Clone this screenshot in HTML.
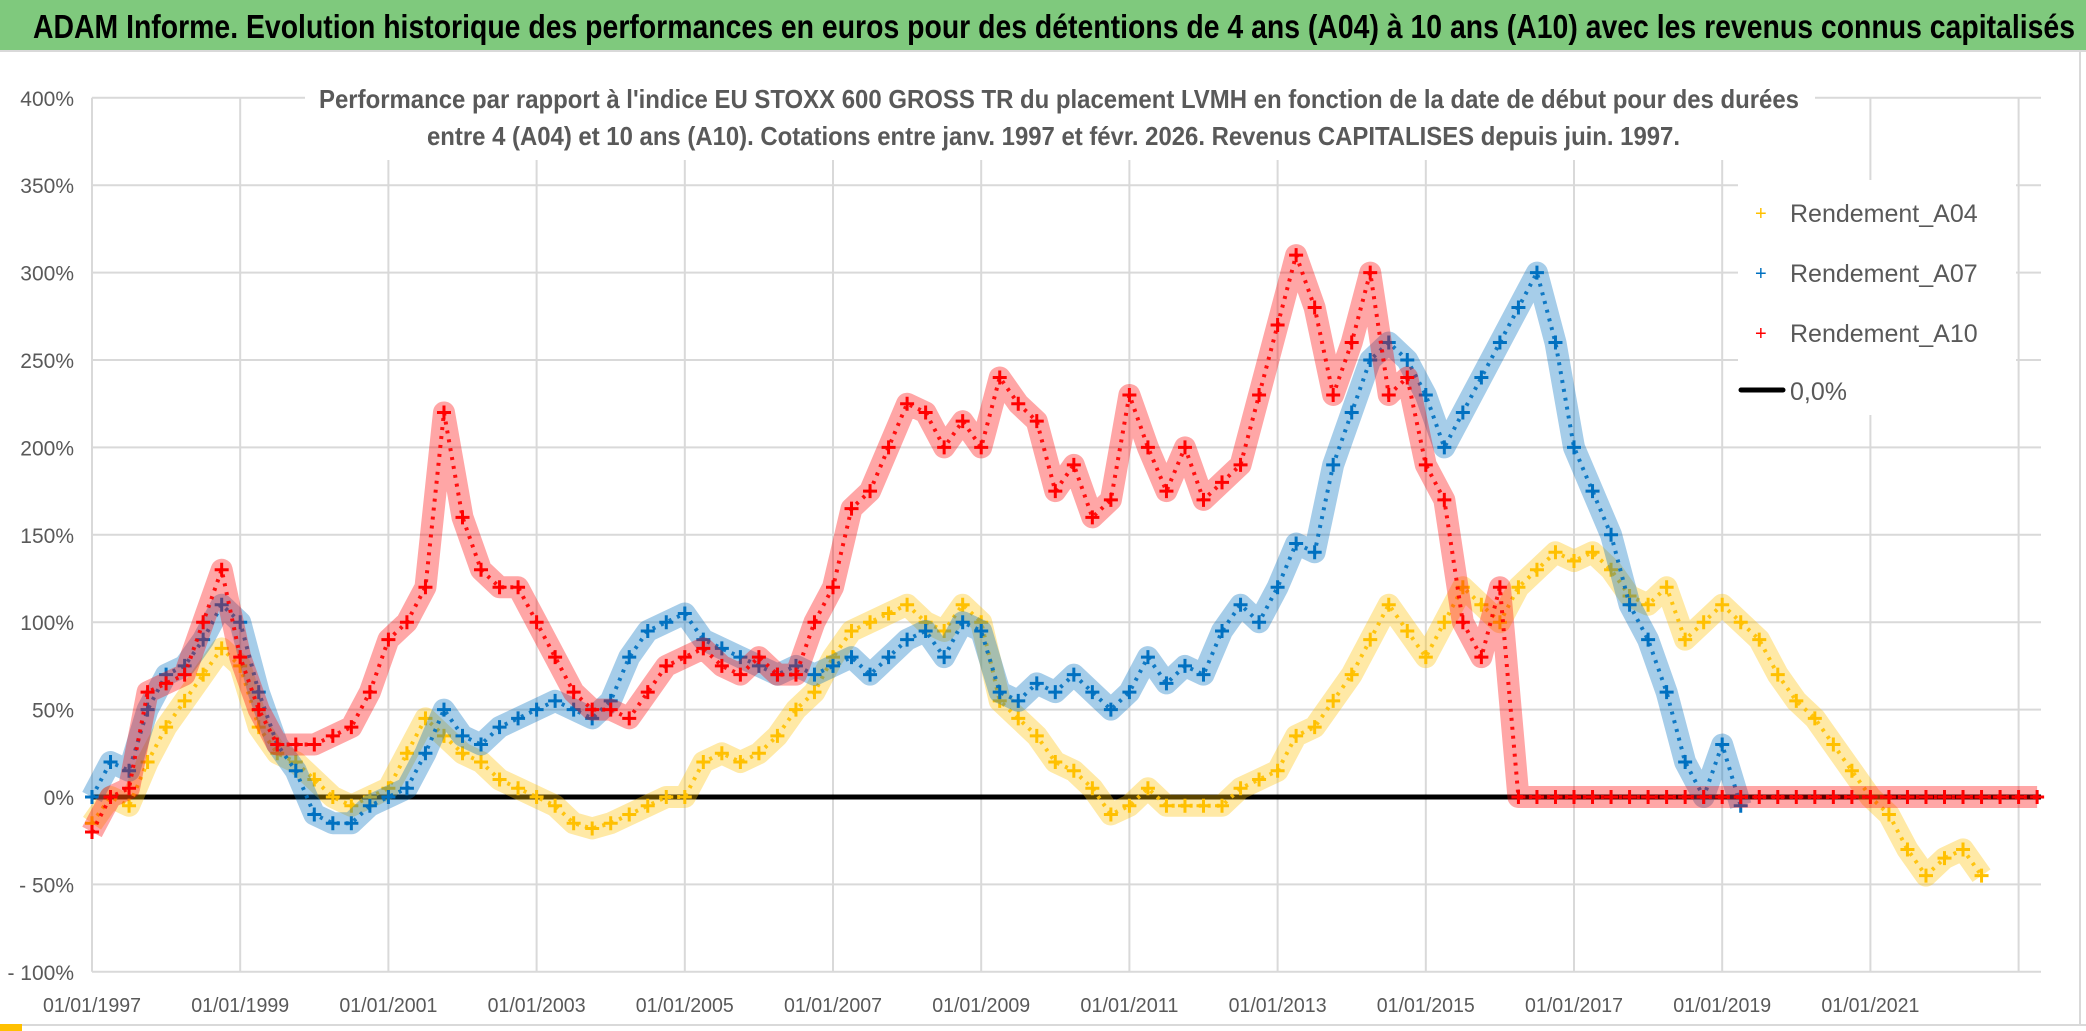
<!DOCTYPE html>
<html><head><meta charset="utf-8"><style>
html,body{margin:0;padding:0;background:#fff;}
svg{display:block;}
text{font-family:"Liberation Sans",sans-serif;}
</style></head>
<body>
<svg id="chart" width="2086" height="1031" viewBox="0 0 2086 1031" xmlns="http://www.w3.org/2000/svg">
<rect x="0" y="0" width="2086" height="1031" fill="#fff"/>
<rect x="0" y="0" width="2086" height="50" fill="#7fc97d"/>
<line x1="0" y1="51" x2="2086" y2="51" stroke="#d9d9d9" stroke-width="2"/>
<text x="33" y="38" font-size="33" font-weight="bold" fill="#000" textLength="2042" lengthAdjust="spacingAndGlyphs">ADAM Informe. Evolution historique des performances en euros pour des détentions de 4 ans (A04) à 10 ans (A10) avec les revenus connus capitalisés</text>
<line x1="2080" y1="52" x2="2080" y2="1025" stroke="#d9d9d9" stroke-width="2"/>
<line x1="0" y1="1025" x2="2086" y2="1025" stroke="#d9d9d9" stroke-width="2"/>
<rect x="0" y="1024" width="22" height="7" fill="#ffc000"/>
<g id="grid"></g>
<g id="axes"></g>
<rect x="305" y="78" width="1510" height="82" fill="#fff"/>
<text x="319" y="108" font-size="26" font-weight="bold" fill="#595959" textLength="1480" lengthAdjust="spacingAndGlyphs">Performance  par rapport à l'indice EU STOXX 600 GROSS TR  du placement LVMH en fonction de la date de début pour des durées</text>
<text x="427" y="145" font-size="26" font-weight="bold" fill="#595959" textLength="1253" lengthAdjust="spacingAndGlyphs">entre 4 (A04) et 10 ans (A10). Cotations entre janv. 1997 et févr. 2026. Revenus CAPITALISES depuis juin. 1997.</text>
<g id="series"></g>
<g id="legend">
<rect x="1738" y="180" width="278" height="235" fill="#fff"/>
<g><text x="1755" y="220" font-size="20" fill="#ffc000">+</text><text x="1790" y="222" font-size="25" fill="#595959">Rendement_A04</text></g>
<g><text x="1755" y="280" font-size="20" fill="#0070c0">+</text><text x="1790" y="282" font-size="25" fill="#595959">Rendement_A07</text></g>
<g><text x="1755" y="340" font-size="20" fill="#ff0000">+</text><text x="1790" y="342" font-size="25" fill="#595959">Rendement_A10</text></g>
<g><line x1="1741" y1="390" x2="1783" y2="390" stroke="#000" stroke-width="5" stroke-linecap="round"/><text x="1790" y="400" font-size="25" fill="#595959">0,0%</text></g>
</g>
</svg>
<script>
const startYear = 1997;
const stepYears = 0.25;
const yTicks = [-100,-50,0,50,100,150,200,250,300,350,400];
const yTickLabels = ["- 100%","- 50%","0%","50%","100%","150%","200%","250%","300%","350%","400%"];
const xTickYears = [1997,1999,2001,2003,2005,2007,2009,2011,2013,2015,2017,2019,2021,2023];
const xTickLabels = ["01/01/1997","01/01/1999","01/01/2001","01/01/2003","01/01/2005","01/01/2007","01/01/2009","01/01/2011","01/01/2013","01/01/2015","01/01/2017","01/01/2019","01/01/2021",""];
const rendementA04 = [-15,0,-5,20,40,55,70,85,75,40,25,20,10,0,-5,0,5,25,45,35,25,20,10,5,0,-5,-15,-18,-15,-10,-5,0,0,20,25,20,25,35,50,60,80,95,100,105,110,100,95,110,100,55,45,35,20,15,5,-10,-5,5,-5,-5,-5,-5,5,10,15,35,40,55,70,90,110,95,80,100,120,110,100,120,130,140,135,140,130,115,110,120,90,100,110,100,90,70,55,45,30,15,0,-10,-30,-45,-35,-30,-45];
const rendementA07 = [0,20,15,50,70,75,90,110,100,60,30,15,-10,-15,-15,-5,0,5,25,50,35,30,40,45,50,55,50,45,55,80,95,100,105,90,85,80,75,70,75,70,75,80,70,80,90,95,80,100,95,60,55,65,60,70,60,50,60,80,65,75,70,95,110,100,120,145,140,190,220,250,260,250,230,200,220,240,260,280,300,260,200,175,150,110,90,60,20,0,30,-5];
const rendementA10 = [-20,0,5,60,65,70,100,130,80,50,30,30,30,35,40,60,90,100,120,220,160,130,120,120,100,80,60,50,50,45,60,75,80,85,75,70,80,70,70,100,120,165,175,200,225,220,200,215,200,240,225,215,175,190,160,170,230,200,175,200,170,180,190,230,270,310,280,230,260,300,230,240,190,170,100,80,120,0,0,0,0,0,0,0,0,0,0,0,0,0,0,0,0,0,0,0,0,0,0,0,0,0,0,0,0,0];

const NS = "http://www.w3.org/2000/svg";
const X0 = 92, X1 = 2041, Y0 = 797, PXPCT = 1.748, PXYEAR = 74.1;
function xScale(year){ return X0 + (year - 1997) * PXYEAR; }
function yScale(v){ return Y0 - v * PXPCT; }
function mk(tag, attrs, parent){ const e = document.createElementNS(NS, tag); for (const k in attrs) e.setAttribute(k, attrs[k]); parent.appendChild(e); return e; }

const grid = document.getElementById('grid');
const axes = document.getElementById('axes');
yTicks.forEach((t, i) => {
  const gl = mk('line', {x1: X0, x2: X1, y1: yScale(t), y2: yScale(t), stroke: '#d9d9d9', 'stroke-width': 2}, grid);
  
  
  const tl = mk('text', {x: 74, y: yScale(t) + 8, 'font-size': 21, fill: '#595959', 'text-anchor': 'end'}, axes);
  tl.textContent = yTickLabels[i];
  
  
});
xTickYears.forEach((yr, i) => {
  const gl = mk('line', {x1: xScale(yr), x2: xScale(yr), y1: yScale(400), y2: yScale(-100), stroke: '#d9d9d9', 'stroke-width': 2}, grid);
  
  
  if (xTickLabels[i]) {
    const tl = mk('text', {x: xScale(yr), y: 1012, 'font-size': 20, fill: '#595959', 'text-anchor': 'middle', textLength: 98, lengthAdjust: 'spacingAndGlyphs'}, axes);
    tl.textContent = xTickLabels[i];
    
    
  }
});

const seriesG = document.getElementById('series');
const zl = mk('line', {x1: X0, x2: X1, y1: yScale(0), y2: yScale(0), stroke: '#000', 'stroke-width': 5}, seriesG);



function drawSeries(vals, color, name){
  const g = mk('g', {}, seriesG);
  
  
  const pts = vals.map((v, i) => xScale(startYear + i * stepYears) + ',' + yScale(v)).join(' ');
  mk('polyline', {points: pts, fill: 'none', stroke: color, 'stroke-width': 22, 'stroke-opacity': 0.35, 'stroke-linejoin': 'round'}, g);
  mk('polyline', {points: pts, fill: 'none', stroke: color, 'stroke-width': 4, 'stroke-dasharray': '3 6', 'stroke-opacity': 0.9}, g);
  vals.forEach((v, i) => {
    const x = xScale(startYear + i * stepYears), y = yScale(v);
    const p = mk('path', {d: `M${x-7},${y}H${x+7}M${x},${y-7}V${y+7}`, stroke: color, 'stroke-width': 3}, g);
    
    
  });
}
drawSeries(rendementA04, '#ffc000', 'series-a04');
drawSeries(rendementA07, '#0070c0', 'series-a07');
drawSeries(rendementA10, '#ff0000', 'series-a10');
</script>
</body></html>
